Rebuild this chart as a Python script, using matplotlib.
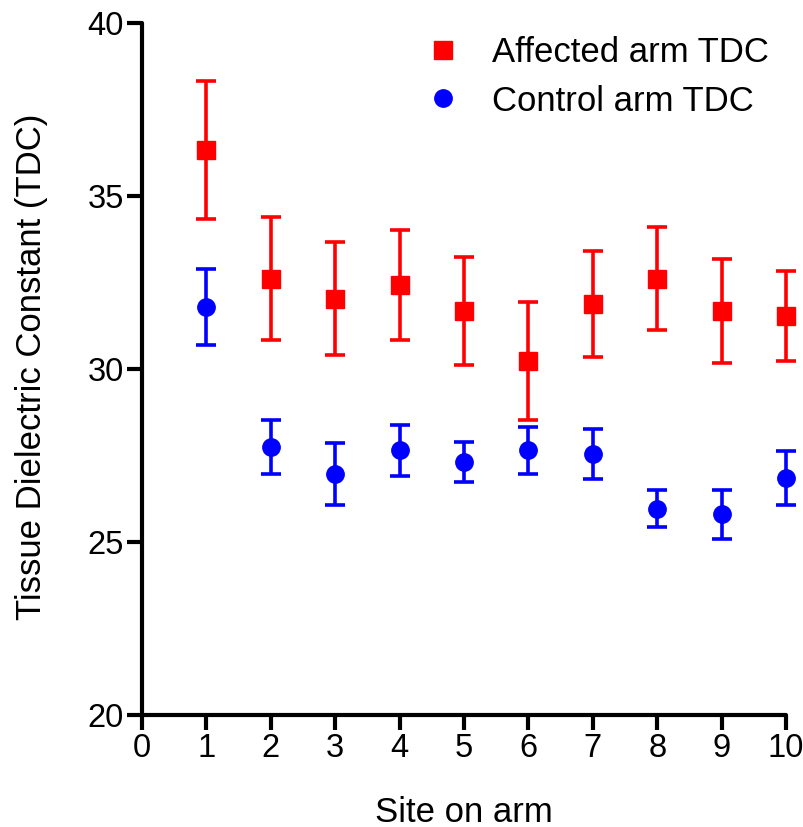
import matplotlib
matplotlib.use('Agg')
import matplotlib.pyplot as plt

plt.rcParams['font.family'] = ['Liberation Sans', 'DejaVu Sans']

# site numbers on the arm
sites = [1, 2, 3, 4, 5, 6, 7, 8, 9, 10]

# affected arm TDC, mean and error
affected_mean = [36.33, 32.62, 32.04, 32.43, 31.69, 30.24, 31.89, 32.62, 31.69, 31.53]
affected_err = [2.0, 1.77, 1.63, 1.6, 1.56, 1.7, 1.53, 1.48, 1.5, 1.3]

# control arm TDC, mean and error
control_mean = [31.81, 27.74, 26.96, 27.65, 27.31, 27.66, 27.55, 25.97, 25.80, 26.85]
control_err = [1.1, 0.78, 0.9, 0.75, 0.58, 0.68, 0.72, 0.53, 0.7, 0.78]

xticks = list(range(0, 11))
yticks = [20, 25, 30, 35, 40]

fig = plt.figure(figsize=(8.04, 8.27), dpi=100)
ax = fig.add_axes([0.1766, 0.1354, 0.801, 0.8364])

for mean, err, fmt, col in [(affected_mean, affected_err, 's', '#ff0000'),
                            (control_mean, control_err, 'o', '#0000ff')]:
    eb = ax.errorbar(sites, mean, yerr=err, fmt=fmt, color=col, ms=12.5,
                     elinewidth=2.6, capsize=7.2, capthick=2.6, zorder=3)
    for art in eb.get_children():
        art.set_clip_on(False)

# legend shows markers only
h1, = ax.plot([], [], 's', color='#ff0000', ms=12.5)
h2, = ax.plot([], [], 'o', color='#0000ff', ms=12.5)
ax.legend([h1, h2], ['Affected arm TDC', 'Control arm TDC'], loc='upper right',
          bbox_to_anchor=(1.022, 1.027), frameon=False, fontsize=25,
          handlelength=1.0, handletextpad=0.9, labelspacing=0.45)

ax.set_xlim(0, 10)
ax.set_ylim(20, 40)
ax.set_xticks(xticks)
ax.set_yticks(yticks)

for s in ['top', 'right']:
    ax.spines[s].set_visible(False)
for s in ['left', 'bottom']:
    ax.spines[s].set_linewidth(3)
    ax.spines[s].set_capstyle('round')

ax.tick_params(axis='both', direction='out', length=11, width=3, labelsize=23.5, pad=2)

ax.set_ylabel('Tissue Dielectric Constant (TDC)', fontsize=25)
ax.yaxis.set_label_coords(-0.146, 0.503)
ax.set_xlabel('Site on arm', fontsize=25)
ax.xaxis.set_label_coords(0.5, -0.154)
ax.xaxis.label.set_verticalalignment('baseline')

plt.savefig('out.png', dpi=100)
